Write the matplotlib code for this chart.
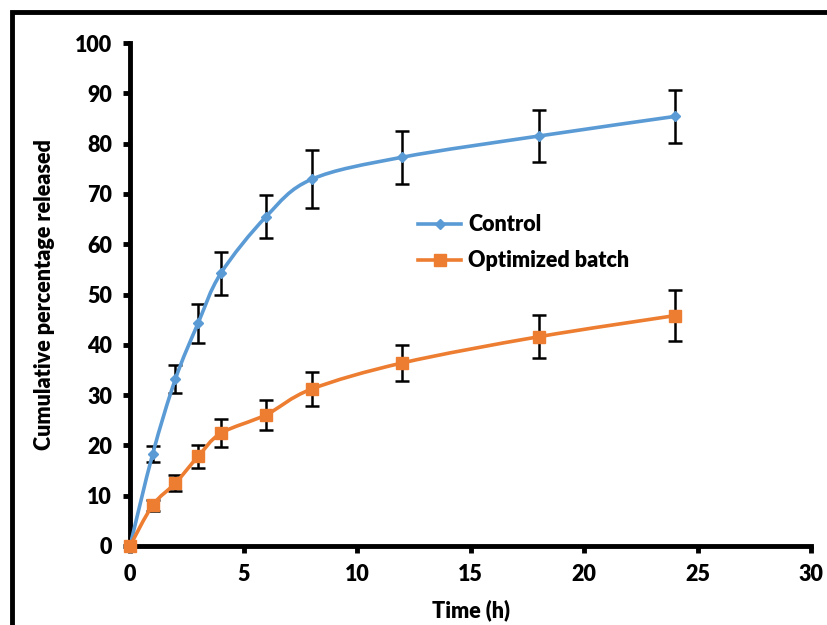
import numpy as np
import matplotlib
matplotlib.use("Agg")
import matplotlib.pyplot as plt
from matplotlib.path import Path
from matplotlib.patches import PathPatch, Rectangle
from matplotlib.lines import Line2D

# ─── data ─────────────────────────────────────────────
time_h = [0, 1, 2, 3, 4, 6, 8, 12, 18, 24]
control = [0, 18.3, 33.2, 44.3, 54.2, 65.5, 72.9, 77.3, 81.5, 85.4]
control_err = [0, 1.6, 2.7, 3.9, 4.3, 4.2, 5.8, 5.3, 5.2, 5.3]
optimized = [0, 8.1, 12.5, 17.8, 22.4, 26.1, 31.2, 36.4, 41.6, 45.8]
optimized_err = [0, 1.1, 1.6, 2.3, 2.8, 3.0, 3.4, 3.5, 4.3, 5.1]

BLUE = "#5B9BD5"
ORANGE = "#ED7D31"
FONT = "Lato"
FS = 15.5


def smooth_path(x, y, tension=1 / 6):
    # Excel-like smoothed line: Catmull-Rom converted to cubic Bezier
    x = np.asarray(x, float)
    y = np.asarray(y, float)
    verts = [(x[0], y[0])]
    codes = [Path.MOVETO]
    n = len(x)
    for i in range(n - 1):
        p0 = (x[max(i - 1, 0)], y[max(i - 1, 0)])
        p1 = (x[i], y[i])
        p2 = (x[i + 1], y[i + 1])
        p3 = (x[min(i + 2, n - 1)], y[min(i + 2, n - 1)])
        c1 = (p1[0] + (p2[0] - p0[0]) * tension, p1[1] + (p2[1] - p0[1]) * tension)
        c2 = (p2[0] - (p3[0] - p1[0]) * tension, p2[1] - (p3[1] - p1[1]) * tension)
        verts += [c1, c2, p2]
        codes += [Path.CURVE4] * 3
    return Path(verts, codes)


fig = plt.figure(figsize=(8.27, 6.25), dpi=100)
ax = fig.add_axes([130 / 827, 1 - 546 / 625, (811 - 130) / 827, (546 - 43) / 625])

# outer frame (only top and left visible in the crop)
fig.patches.append(Rectangle((12 / 827, -0.2), 1.2, 1.2 - 12 / 625,
                             transform=fig.transFigure, fill=False,
                             edgecolor="black", linewidth=3.5, zorder=10))

for yv, err, col, mk, ms in [
    (control, control_err, BLUE, "D", 5.5),
    (optimized, optimized_err, ORANGE, "s", 8),
]:
    ax.add_patch(PathPatch(smooth_path(time_h, yv), facecolor="none",
                           edgecolor=col, linewidth=2.6, zorder=3))
    ax.errorbar(time_h, yv, yerr=err, fmt="none", ecolor="black",
                elinewidth=1.8, capsize=5, capthick=1.8, zorder=2)
    ax.plot(time_h, yv, linestyle="none", marker=mk, markersize=ms,
            color=col, zorder=4, clip_on=False)

ax.set_xlim(0, 30)
ax.set_ylim(0, 100)
ax.set_xticks(range(0, 31, 5))
ax.set_yticks(range(0, 101, 10))

for side in ["top", "right"]:
    ax.spines[side].set_visible(False)
for side in ["left", "bottom"]:
    ax.spines[side].set_linewidth(3.5)
ax.tick_params(direction="out", length=5, width=3.5, pad=8)
for lbl in ax.get_xticklabels() + ax.get_yticklabels():
    lbl.set_fontfamily(FONT)
    lbl.set_fontweight("heavy")
    lbl.set_fontsize(FS)

ax.set_xlabel("Time (h)", fontfamily=FONT, fontweight="heavy", fontsize=FS, labelpad=10)
ax.set_ylabel("Cumulative percentage released", fontfamily=FONT,
              fontweight="heavy", fontsize=FS, labelpad=14)

handles = [
    Line2D([], [], color=BLUE, linewidth=2.6, marker="D", markersize=5.5),
    Line2D([], [], color=ORANGE, linewidth=2.6, marker="s", markersize=8),
]
ax.legend(handles, ["Control", "Optimized batch"], loc="upper left",
          bbox_to_anchor=(0.395, 0.698), frameon=False, handlelength=2.0,
          handletextpad=0.3, labelspacing=0.7,
          prop={"family": FONT, "weight": "heavy", "size": FS})

fig.savefig("out.png", dpi=100)
